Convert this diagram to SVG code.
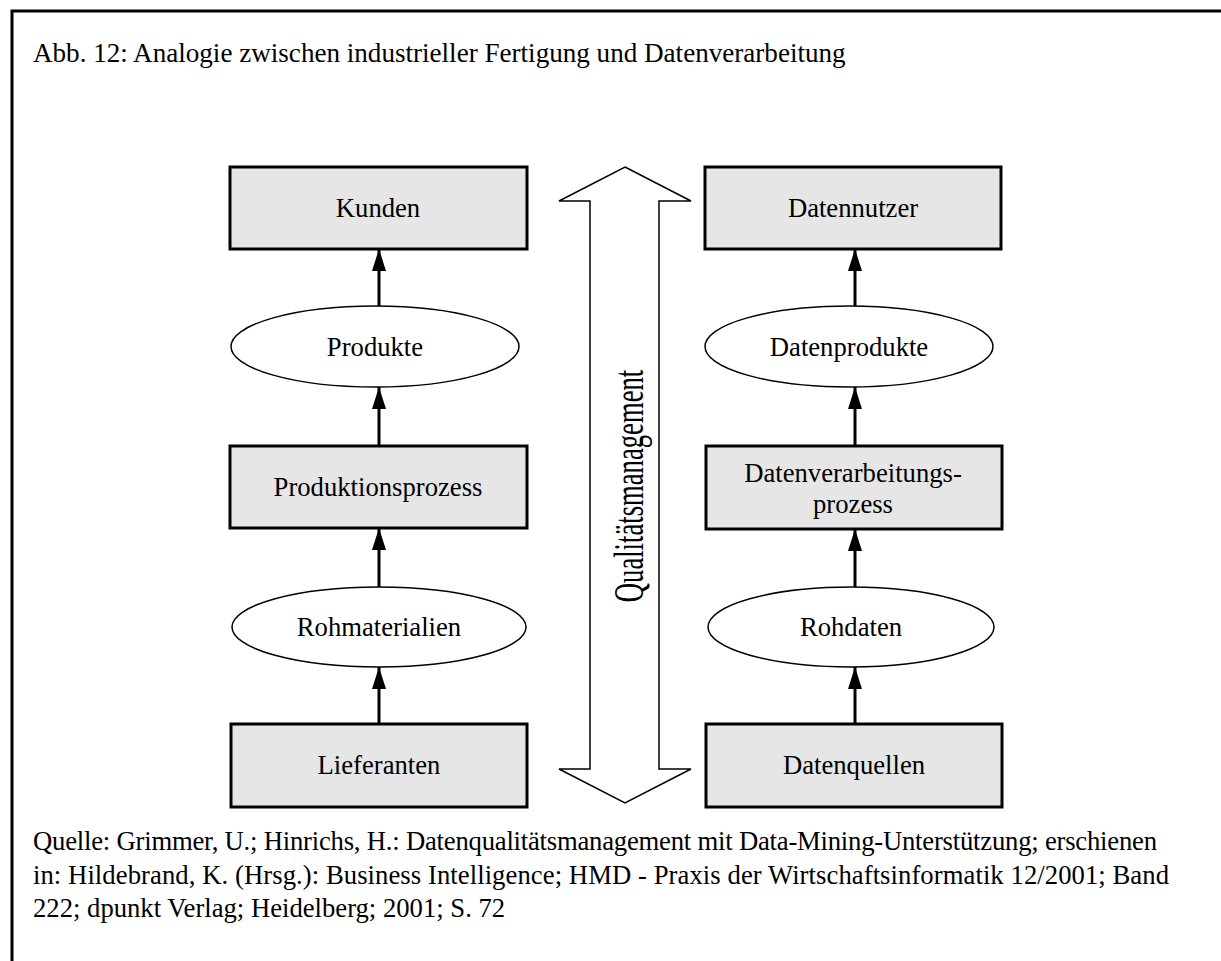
<svg xmlns="http://www.w3.org/2000/svg" width="1221" height="961" viewBox="0 0 1221 961">
  <defs>
    <marker id="head" viewBox="0 0 22 14" refX="22" refY="7" markerWidth="22" markerHeight="14" markerUnits="userSpaceOnUse" orient="auto">
      <path d="M0,0 L22,7 L0,14 Z" fill="#000"/>
    </marker>
    <style>
      text { font-family: "Liberation Serif", "Times New Roman", serif; font-size: 26.67px; fill: #000; }
      .lbl { text-anchor: middle; }
      .box { fill: #e6e6e6; stroke: #000; stroke-width: 3; }
      .oval { fill: #fff; stroke: #000; stroke-width: 1.5; }
      .edge { stroke: #000; stroke-width: 3; fill: none; marker-end: url(#head); }
      .frame { stroke: #000; stroke-width: 3; fill: none; }
    </style>
  </defs>
  <rect width="1221" height="961" fill="#fff"/>

  <!-- frame -->
  <path class="frame" d="M12,961 L12,11 L1221,11"/>

  <!-- caption -->
  <text x="33" y="62" style="font-size:27.1px">Abb. 12: Analogie zwischen industrieller Fertigung und Datenverarbeitung</text>

  <!-- quality management double arrow -->
  <g id="qm">
    <path d="M625,167 L691,201 L659,201 L659,769 L691,769 L625,803 L559,769 L590,769 L590,201 L559,201 Z" fill="#fff" stroke="#000" stroke-width="1.5" stroke-linejoin="miter"/>
    <text class="lbl" transform="translate(643,486) rotate(-90) scale(1,1.55)" font-size="28">Qualitätsmanagement</text>
  </g>

  <!-- industrial production column -->
  <g id="kunden">
    <rect class="box" x="230" y="167" width="297" height="82"/>
    <text class="lbl" x="378" y="217">Kunden</text>
  </g>
  <g id="produkte">
    <ellipse class="oval" cx="375" cy="346.5" rx="144" ry="40.5"/>
    <text class="lbl" x="375" y="356">Produkte</text>
  </g>
  <g id="produktionsprozess">
    <rect class="box" x="230" y="446" width="297" height="82"/>
    <text class="lbl" x="378" y="496">Produktionsprozess</text>
  </g>
  <g id="rohmaterialien">
    <ellipse class="oval" cx="379" cy="627" rx="147" ry="40"/>
    <text class="lbl" x="379" y="636">Rohmaterialien</text>
  </g>
  <g id="lieferanten">
    <rect class="box" x="231" y="724" width="296" height="83"/>
    <text class="lbl" x="379" y="774">Lieferanten</text>
  </g>

  <!-- data processing column -->
  <g id="datennutzer">
    <rect class="box" x="705" y="167" width="296" height="82"/>
    <text class="lbl" x="853" y="217">Datennutzer</text>
  </g>
  <g id="datenprodukte">
    <ellipse class="oval" cx="849" cy="346.5" rx="144" ry="40.5"/>
    <text class="lbl" x="849" y="356">Datenprodukte</text>
  </g>
  <g id="datenverarbeitungsprozess">
    <rect class="box" x="706" y="446" width="296" height="83"/>
    <text class="lbl" x="853" y="482">Datenverarbeitungs-</text>
    <text class="lbl" x="853" y="513">prozess</text>
  </g>
  <g id="rohdaten">
    <ellipse class="oval" cx="851" cy="627" rx="143" ry="40"/>
    <text class="lbl" x="851" y="636">Rohdaten</text>
  </g>
  <g id="datenquellen">
    <rect class="box" x="706" y="724" width="296" height="83"/>
    <text class="lbl" x="854" y="774">Datenquellen</text>
  </g>

  <!-- connectors -->
  <g id="connectors">
    <line class="edge" x1="379" y1="724" x2="379" y2="667"/>
    <line class="edge" x1="379" y1="587" x2="379" y2="528"/>
    <line class="edge" x1="379" y1="446" x2="379" y2="387"/>
    <line class="edge" x1="379" y1="306" x2="379" y2="249"/>
    <line class="edge" x1="855" y1="724" x2="855" y2="667"/>
    <line class="edge" x1="855" y1="587" x2="855" y2="529"/>
    <line class="edge" x1="855" y1="446" x2="855" y2="387"/>
    <line class="edge" x1="855" y1="306" x2="855" y2="249"/>
  </g>

  <!-- source -->
  <text x="33" y="850" textLength="1124" lengthAdjust="spacing">Quelle: Grimmer, U.; Hinrichs, H.: Datenqualitätsmanagement mit Data-Mining-Unterstützung; erschienen</text>
  <text x="33" y="884" textLength="1136" lengthAdjust="spacing">in: Hildebrand, K. (Hrsg.): Business Intelligence; HMD - Praxis der Wirtschaftsinformatik 12/2001; Band</text>
  <text x="33" y="917">222; dpunkt Verlag; Heidelberg; 2001; S. 72</text>
</svg>
